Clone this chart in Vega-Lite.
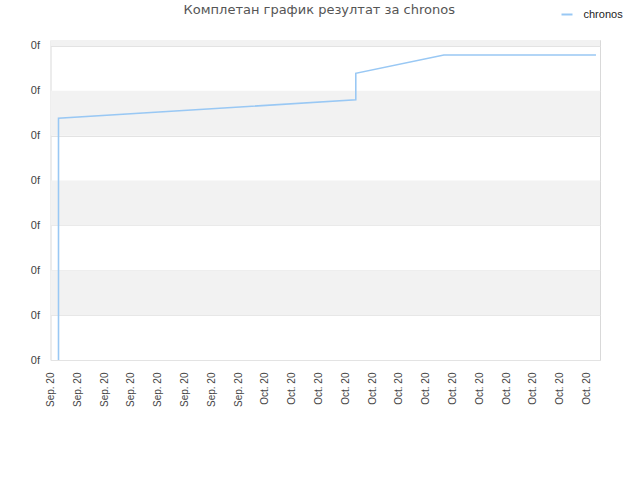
{
  "$schema": "https://vega.github.io/schema/vega-lite/v6.json",
  "autosize": "none",
  "padding": {"left": 50.5, "top": 40, "right": 40, "bottom": 80},
  "width": 549.5,
  "height": 320,
  "background": "white",
  "title": {
    "text": "Комплетан график резултат за chronos",
    "font": "DejaVu Sans",
    "fontSize": 13,
    "fontWeight": "normal",
    "color": "#555555",
    "anchor": "middle",
    "frame": "group",
    "dx": -6,
    "offset": -9
  },
  "config": {
    "view": {"stroke": "#d9d9d9", "strokeWidth": 1},
    "axis": {"labelFont": "Liberation Sans", "labelColor": "#444444", "ticks": false, "domain": false}
  },
  "layer": [
    {
      "data": {"values": [
        {"lo": 1, "hi": 2},
        {"lo": 3, "hi": 4},
        {"lo": 5, "hi": 6},
        {"lo": 7, "hi": 7.133}
      ]},
      "mark": {"type": "rect", "color": "#f2f2f2", "clip": true},
      "encoding": {
        "y": {"field": "lo", "type": "quantitative", "scale": {"domain": [0, 7.133], "nice": false, "zero": false},
              "axis": {"values": [0, 1, 2, 3, 4, 5, 6, 7], "labelExpr": "'0f'", "title": null, "grid": true, "gridColor": "#e3e3e3", "labelFontSize": 11, "labelPadding": 11}},
        "y2": {"field": "hi"}
      }
    },
    {
      "data": {"values": [
        {"series": "chronos", "ord": 1, "t": "2020-09-15T14:20:00Z", "v": 0},
        {"series": "chronos", "ord": 2, "t": "2020-09-15T14:20:00Z", "v": 0.40},
        {"series": "chronos", "ord": 3, "t": "2020-09-15T14:20:00Z", "v": 3.19},
        {"series": "chronos", "ord": 4, "t": "2020-09-15T14:20:00Z", "v": 3.39},
        {"series": "chronos", "ord": 5, "t": "2020-09-15T14:20:00Z", "v": 3.79},
        {"series": "chronos", "ord": 6, "t": "2020-09-15T14:20:00Z", "v": 4.19},
        {"series": "chronos", "ord": 7, "t": "2020-09-15T14:20:00Z", "v": 4.79},
        {"series": "chronos", "ord": 8, "t": "2020-09-15T14:20:00Z", "v": 5.39},
        {"series": "chronos", "ord": 9, "t": "2020-10-07T18:40:00Z", "v": 5.80},
        {"series": "chronos", "ord": 10, "t": "2020-10-07T18:40:00Z", "v": 6.39},
        {"series": "chronos", "ord": 11, "t": "2020-10-14T08:25:00Z", "v": 6.80},
        {"series": "chronos", "ord": 12, "t": "2020-10-21T19:40:00Z", "v": 6.80},
        {"series": "chronos", "ord": 13, "t": "2020-10-22T19:00:00Z", "v": 6.80},
        {"series": "chronos", "ord": 14, "t": "2020-10-25T16:50:00Z", "v": 6.80}
      ]},
      "mark": {"type": "line", "strokeWidth": 1.6, "clip": true},
      "encoding": {
        "x": {"field": "t", "type": "temporal",
              "scale": {"type": "utc", "domain": [{"year": 2020, "month": 9, "date": 15, "utc": true}, {"year": 2020, "month": 10, "date": 26, "utc": true}], "nice": false},
              "axis": {"tickCount": {"interval": "day", "step": 2}, "format": "%b. %y", "labelAngle": -90, "labelFontSize": 10, "labelPadding": 12, "grid": false, "title": null, "labelOverlap": false, "labelFlush": false}},
        "y": {"field": "v", "type": "quantitative"},
        "order": {"field": "ord", "type": "quantitative"},
        "color": {"field": "series", "type": "nominal",
                  "scale": {"domain": ["chronos"], "range": ["#99c8f4"]},
                  "legend": {"title": null, "orient": "none", "legendX": 510, "legendY": -32, "symbolType": "stroke", "symbolSize": 121, "symbolStrokeWidth": 2, "labelFont": "Liberation Sans", "labelFontSize": 11, "labelColor": "#222222", "labelOffset": 10}}
      }
    }
  ]
}
